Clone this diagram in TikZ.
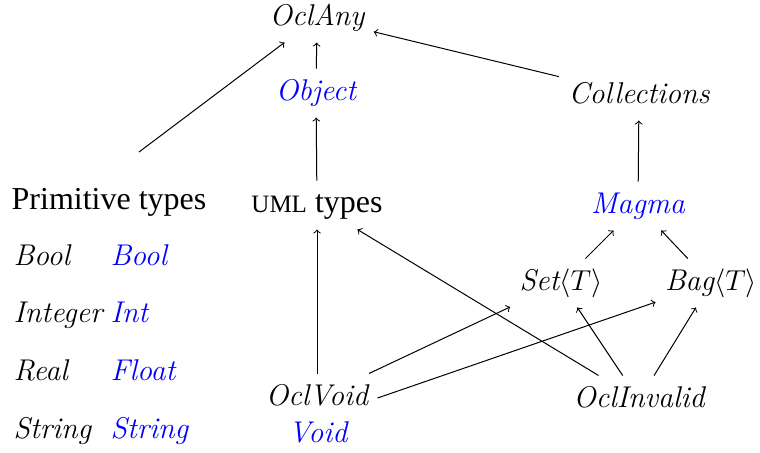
\documentclass[tikz,border=0pt]{standalone}
\usepackage{fontspec}
\newfontfamily\tnr{Liberation Serif}
\begin{document}
\begin{tikzpicture}[x=0.5pt,y=-0.5pt,->,>=to,line width=0.5pt,
  plain/.style={anchor=base, inner sep=4.5pt, text height=11pt, text depth=4pt, font=\fontsize{16}{19}\selectfont\tnr},
  ty/.style={plain, font=\fontsize{15}{18}\selectfont\itshape},
  lang/.style={ty, text=blue},
  cell/.style={anchor=base west, inner sep=0pt, font=\fontsize{15}{18}\selectfont\itshape}]

\useasboundingbox (0,0) rectangle (760,452);

\node (any) [ty] at (317,25) {OclAny};
\node (obj) [lang] at (316,100) {Object};
\node (coll) [ty] at (639,103) {Collections};

\node (prim) [plain] at (109,209) {Primitive types};
\node (uml) [plain] at (317,212) {{\fontsize{12.5}{14}\selectfont UML} types};
\node (magma) [lang] at (638,213) {Magma};

\node (set) [ty] at (561,290) {Set$\langle T\rangle$};
\node (bag) [ty] at (711,290) {Bag$\langle T\rangle$};

\node (void) [ty] at (317,405) {OclVoid};
\node (voidl) [lang] at (318,442) {Void};
\node (inv) [ty] at (639,407) {OclInvalid};

\coordinate (primtop) at (139,152);

% primitive types and their counterparts
\foreach \ocl/\tgt [count=\i] in {Bool/Bool, Integer/Int, Real/Float, String/String}
{
  \node (ocl\i) [cell] at (13,265+57.7*\i-57.7) {\ocl};
  \node (tgt\i) [cell, text=blue] at (110,265+57.7*\i-57.7) {\tgt};
}

\path [->]
    (obj) edge (any)
    (coll) edge (any)
    (primtop) edge (any)
    (uml) edge (obj)
    (magma) edge (coll)
    (set) edge (magma)
    (bag) edge (magma)
    (void) edge (uml)
    (inv) edge (uml)
    (void) edge (set)
    (void.east) edge (bag)
    (inv) edge (set)
    (inv) edge (bag)
;

\end{tikzpicture}
\end{document}
